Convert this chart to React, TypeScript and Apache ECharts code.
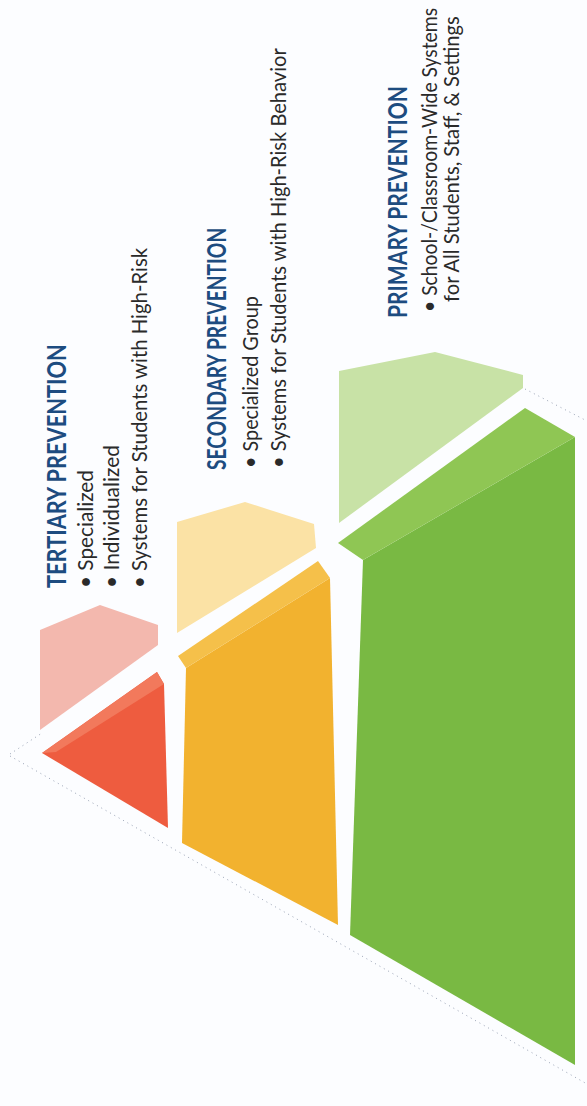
import React, { useEffect, useRef } from "react";
import * as echarts from "echarts";

// ---- Content ----
const tierNames = ["TERTIARY PREVENTION", "SECONDARY PREVENTION", "PRIMARY PREVENTION"];
const tierBullets: string[][] = [
  ["• Specialized", "• Individualized", "• Systems for Students with High-Risk"],
  ["• Specialized Group", "• Systems for Students with High-Risk Behavior"],
  ["• School-/Classroom-Wide Systems", "for All Students, Staff, & Settings"],
];

// ---- Pyramid faces (diagram units = page pixels) ----
const faceNames = [
  "tertiary-top", "tertiary-front", "tertiary-bevel",
  "secondary-top", "secondary-front", "secondary-bevel",
  "primary-top", "primary-front", "primary-bevel",
];
const facePoints: number[][][] = [
  [[40, 630], [100, 605], [158, 625], [158, 645], [40, 730]],
  [[42, 753], [157, 672], [164, 684], [168, 828]],
  [[42, 753], [157, 672], [164, 684], [56, 752]],
  [[177, 522], [245, 502], [314, 524], [316, 548], [177, 633]],
  [[186, 668], [330, 578], [338, 925], [182, 843]],
  [[178, 656], [318, 561], [330, 578], [186, 668]],
  [[339, 371], [435, 352], [523, 375], [523, 388], [339, 523]],
  [[363, 560], [575, 437], [575, 1065], [350, 935]],
  [[338, 543], [525, 408], [575, 437], [363, 560]],
];
const faceColors = [
  "#f3b8ae", "#ee5c3f", "#f2795c",
  "#fbe2a5", "#f2b22f", "#f5c04a",
  "#c8e2a6", "#79b943", "#8fc654",
];
const outlineLines: number[][][] = [
  [[10, 754], [42, 733]],
  [[10, 756], [587, 1084]],
  [[525, 389], [587, 421]],
];

const W = 587;
const H = 1106;

export default function App() {
  const ref = useRef<HTMLDivElement>(null);
  useEffect(() => {
    document.body.style.margin = "0";
    const chart = echarts.init(ref.current!, null, { renderer: "svg" });
    const family = "Lato, 'Liberation Sans', sans-serif";
    const headFont = `bold 26px ${family}`;
    const bodyFont = `22px ${family}`;
    const ctx = document.createElement("canvas").getContext("2d")!;
    const measure = (t: string, f: string) => {
      ctx.font = f;
      return ctx.measureText(t).width || 1;
    };
    // layout: [center x, start y, run length]
    const headLayout = [[56, 588, 245], [216, 470, 243], [397, 318, 233]];
    const bulletLayout = [
      [[85, 588, 118], [111, 588, 143], [139, 588, 341]],
      [[249, 468, 172], [277, 468, 421]],
      [[429, 312, 304], [450, 302, 287]],
    ];
    const mk = (text: string, font: string, fill: string, l: number[]) => ({
      type: "text",
      x: l[0],
      y: l[1],
      rotation: Math.PI / 2,
      scaleX: l[2] / measure(text, font),
      style: {
        text, font, fill,
        textAlign: "left", textVerticalAlign: "middle", align: "left", verticalAlign: "middle",
      },
    });
    const texts: any[] = [];
    tierNames.forEach((name, i) => {
      texts.push(mk(name, headFont, "#1d4c80", headLayout[i]));
      tierBullets[i].forEach((b, j) => texts.push(mk(b, bodyFont, "#2a2a2a", bulletLayout[i][j])));
    });

    chart.setOption({
      animation: false,
      backgroundColor: "#fcfdff",
      grid: { left: 0, right: 0, top: 0, bottom: 0 },
      xAxis: { type: "value", min: 0, max: W, show: false },
      yAxis: { type: "value", min: 0, max: H, inverse: true, show: false },
      series: [
        {
          type: "custom",
          name: "outline",
          data: outlineLines.map((_, i) => [i]),
          renderItem: (_p: any, api: any) => {
            const seg = outlineLines[api.value(0)];
            const a = api.coord(seg[0]);
            const b = api.coord(seg[1]);
            return {
              type: "line",
              shape: { x1: a[0], y1: a[1], x2: b[0], y2: b[1] },
              style: { stroke: "#9aa3b5", lineWidth: 1, lineDash: [1, 4] },
            };
          },
          silent: true,
        },
        {
          type: "custom",
          name: "pyramid",
          data: faceNames.map((_, i) => [i]),
          renderItem: (_p: any, api: any) => {
            const idx = api.value(0);
            const pts = facePoints[idx].map((p) => api.coord(p));
            return { type: "polygon", shape: { points: pts }, style: { fill: faceColors[idx] } };
          },
          silent: true,
        },
      ],
      graphic: texts,
    });
    return () => chart.dispose();
  }, []);
  return <div ref={ref} style={{ width: W, height: H }} />;
}
